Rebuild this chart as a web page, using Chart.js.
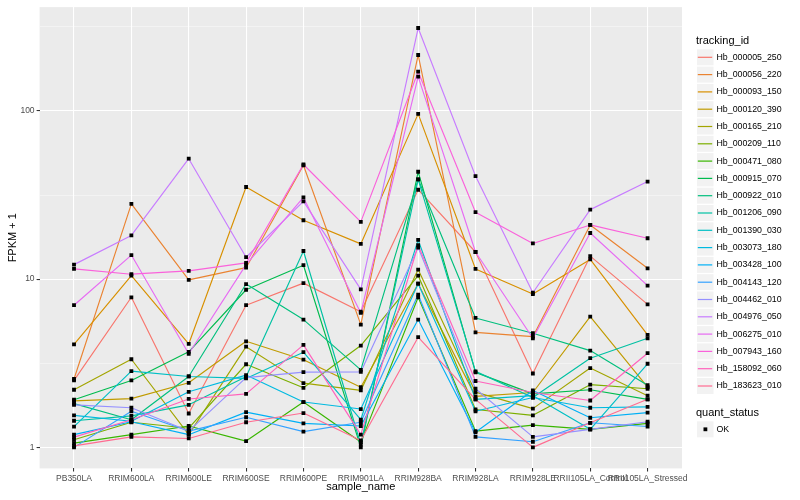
<!DOCTYPE html>
<html>
<head>
<meta charset="utf-8">
<script src="https://cdn.jsdelivr.net/npm/chart.js@4.4.1/dist/chart.umd.min.js"></script>
<style>
  html, body { margin: 0; padding: 0; background: #fff; }
  #wrap { width: 800px; height: 500px; }
</style>
</head>
<body>
<div id="wrap"><canvas id="chart" width="800" height="500"></canvas></div>
<script>
// --- data (FPKM + 1, log scale) ---
const sampleNames = ["PB350LA", "RRIM600LA", "RRIM600LE", "RRIM600SE", "RRIM600PE", "RRIM901LA",
  "RRIM928BA", "RRIM928LA", "RRIM928LE", "RRII105LA_Control", "RRII105LA_Stressed"];

const trackingIds = ["Hb_000005_250", "Hb_000056_220", "Hb_000093_150", "Hb_000120_390", "Hb_000165_210",
  "Hb_000209_110", "Hb_000471_080", "Hb_000915_070", "Hb_000922_010", "Hb_001206_090",
  "Hb_001390_030", "Hb_003073_180", "Hb_003428_100", "Hb_004143_120", "Hb_004462_010",
  "Hb_004976_050", "Hb_006275_010", "Hb_007943_160", "Hb_158092_060", "Hb_183623_010"];

const seriesColors = ["#F8766D", "#EA8331", "#D89000", "#C09B00", "#A3A500", "#7CAE00", "#39B600",
  "#00BB4E", "#00BF7D", "#00C1A3", "#00BFC4", "#00BAE0", "#00B0F6", "#35A2FF", "#9590FF",
  "#C77CFF", "#E76BF3", "#FA62DB", "#FF62BC", "#FF6C91"];

const hb000005_250 = [2.5, 7.8, 1.59, 7.0, 9.47, 6.4, 34, 14.5, 2.75, 13.7, 7.08];
const hb000056_220 = [2.55, 28, 9.9, 11.7, 47.5, 5.37, 215, 4.83, 4.55, 21, 11.6];
const hb000093_150 = [4.1, 10.5, 4.12, 35.3, 22.4, 16.2, 96, 11.5, 8.15, 13.1, 4.66];
const hb000120_390 = [1.89, 1.95, 2.42, 4.27, 3.32, 2.28, 9.4, 2.01, 2.12, 5.98, 2.28];
const hb000165_210 = [2.2, 3.34, 1.19, 3.97, 2.41, 2.18, 11.4, 2.13, 1.70, 2.96, 2.03];
const hb000209_110 = [1.11, 1.41, 1.30, 3.12, 2.26, 4.03, 10.5, 1.68, 1.55, 2.36, 2.23];
const hb000471_080 = [1.06, 1.19, 1.34, 1.09, 1.86, 1.075, 7.8, 1.25, 1.355, 1.28, 1.39];
const hb000915_070 = [1.92, 2.5, 3.7, 8.65, 12.1, 1.0, 43.5, 2.79, 2.08, 2.2, 1.93];
const hb000922_010 = [1.82, 1.46, 2.64, 9.35, 5.75, 2.89, 39.2, 5.88, 4.77, 3.76, 2.34];
const hb001206_090 = [1.44, 1.54, 1.79, 2.63, 14.7, 1.04, 39.2, 2.83, 1.98, 3.39, 4.45];
const hb001390_030 = [1.33, 2.84, 2.64, 2.57, 3.68, 1.46, 17.1, 1.93, 2.03, 1.28, 3.14];
const hb003073_180 = [1.55, 1.43, 2.14, 2.69, 1.86, 1.69, 9.4, 1.64, 1.98, 1.72, 1.74];
const hb003428_100 = [1.19, 1.42, 1.19, 1.62, 1.39, 1.34, 5.75, 1.23, 2.18, 1.5, 1.61];
const hb004143_120 = [1.0, 1.64, 1.25, 1.51, 1.24, 1.41, 8.1, 1.155, 1.08, 1.4, 1.33];
const hb004462_010 = [1.79, 1.72, 1.25, 2.6, 2.8, 2.81, 15.4, 2.23, 1.155, 1.28, 1.42];
const hb004976_050 = [12.2, 18.2, 52, 13.5, 29, 8.7, 311, 41, 8.3, 25.9, 38];
const hb006275_010 = [7.0, 13.9, 3.6, 12.2, 30.6, 6.3, 160, 14.5, 4.45, 18.8, 9.16];
const hb007943_160 = [11.5, 10.7, 11.2, 12.5, 48, 21.9, 171, 25, 16.3, 21, 17.5];
const hb158092_060 = [1.15, 1.46, 1.94, 2.08, 4.07, 1.19, 15.9, 2.48, 2.12, 1.9, 3.63];
const hb183623_010 = [1.02, 1.155, 1.13, 1.41, 1.60, 1.1, 4.52, 1.93, 1.0, 1.4, 1.93];

const allSeries = [hb000005_250, hb000056_220, hb000093_150, hb000120_390, hb000165_210,
  hb000209_110, hb000471_080, hb000915_070, hb000922_010, hb001206_090,
  hb001390_030, hb003073_180, hb003428_100, hb004143_120, hb004462_010,
  hb004976_050, hb006275_010, hb007943_160, hb158092_060, hb183623_010];

const yTickValues = [1, 10, 100];
const yMinorValues = [3.162, 31.62, 316.2];
const yMin = 0.75, yMax = 414;

const FONT = '"Liberation Sans", Arial, sans-serif';
Chart.defaults.font.family = FONT;

// --- datasets: one line per gene, plus all points drawn on top ---
const lineSets = allSeries.map((vals, i) => ({
  label: trackingIds[i],
  data: vals.map((v, j) => ({ x: j + 1, y: v })),
  borderColor: seriesColors[i],
  borderWidth: 1.15,
  borderJoinStyle: 'round',
  pointRadius: 0,
  tension: 0,
  order: trackingIds.length - i
}));

const pointData = [];
allSeries.forEach(vals => vals.forEach((v, j) => pointData.push({ x: j + 1, y: v })));

const pointSet = {
  label: 'OK',
  data: pointData,
  showLine: false,
  pointStyle: 'rect',
  pointRadius: 2.7,
  pointBackgroundColor: '#000',
  pointBorderWidth: 0,
  order: 0
};

// grey panel like ggplot
const panelBg = {
  id: 'panelBg',
  beforeDraw(chart) {
    const { ctx, chartArea: a } = chart;
    ctx.save();
    ctx.fillStyle = '#fff';
    ctx.fillRect(0, 0, chart.width, chart.height);
    ctx.fillStyle = '#ebebeb';
    ctx.fillRect(a.left, a.top, a.right - a.left, a.bottom - a.top);
    ctx.restore();
  }
};

// ggplot-style legend on the right
const ggLegend = {
  id: 'ggLegend',
  afterDraw(chart) {
    const ctx = chart.ctx;
    const kx = 697, tx = 716.5;
    ctx.save();
    ctx.textBaseline = 'middle';
    ctx.textAlign = 'left';
    ctx.fillStyle = '#000';
    ctx.font = '11px ' + FONT;
    ctx.fillText('tracking_id', 696, 40.5);
    trackingIds.forEach((id, i) => {
      const cy = 57.3 + i * 17.3;
      ctx.fillStyle = '#f2f2f2';
      ctx.fillRect(kx, cy - 8, 16.5, 16);
      ctx.strokeStyle = seriesColors[i];
      ctx.lineWidth = 1.2;
      ctx.beginPath();
      ctx.moveTo(kx + 0.8, cy);
      ctx.lineTo(kx + 15.2, cy);
      ctx.stroke();
      ctx.fillStyle = '#000';
      ctx.font = '8.8px ' + FONT;
      ctx.fillText(id, tx, cy);
    });
    ctx.font = '11px ' + FONT;
    ctx.fillText('quant_status', 696, 412.5);
    const oy = 429.3;
    ctx.fillStyle = '#f2f2f2';
    ctx.fillRect(kx, oy - 8, 16.5, 16);
    ctx.fillStyle = '#000';
    ctx.fillRect(kx + 6.5, oy - 1.9, 3.8, 3.8);
    ctx.font = '8.8px ' + FONT;
    ctx.fillText('OK', tx, oy);
    ctx.restore();
  }
};

new Chart(document.getElementById('chart'), {
  type: 'line',
  data: { datasets: [...lineSets, pointSet] },
  plugins: [panelBg, ggLegend],
  options: {
    responsive: false,
    animation: false,
    events: [],
    layout: { padding: { left: 0, top: 5, right: 118, bottom: 0 } },
    plugins: { legend: { display: false }, tooltip: { enabled: false } },
    scales: {
      x: {
        type: 'linear',
        min: 0.4,
        max: sampleNames.length + 0.6,
        afterBuildTicks(scale) {
          scale.ticks = sampleNames.map((_, i) => ({ value: i + 1 }));
        },
        afterFit(scale) { scale.height = 31.6; },
        border: { display: false },
        grid: { color: '#fff', lineWidth: 1.07, tickLength: 3, tickColor: '#333' },
        ticks: {
          autoSkip: false, maxRotation: 0, minRotation: 0, padding: 2,
          color: '#4d4d4d', font: { size: 8.5 },
          callback: v => sampleNames[v - 1]
        },
        title: { display: true, text: 'sample_name', color: '#000', font: { size: 11 }, padding: { top: 0, bottom: 6.4 } }
      },
      y: {
        type: 'logarithmic',
        min: yMin,
        max: yMax,
        afterBuildTicks(scale) {
          scale.ticks = [...yTickValues, ...yMinorValues].sort((a, b) => a - b).map(v => ({ value: v }));
        },
        afterFit(scale) { scale.width = 39.6; },
        border: { display: false },
        grid: {
          color: c => yTickValues.includes(c.tick.value) ? '#fff' : 'rgba(255,255,255,0.75)',
          lineWidth: c => yTickValues.includes(c.tick.value) ? 1.07 : 0.55,
          tickLength: 3,
          tickColor: c => yTickValues.includes(c.tick.value) ? '#333' : 'rgba(0,0,0,0)'
        },
        ticks: {
          padding: 2, color: '#4d4d4d', font: { size: 8.5 },
          callback: v => yTickValues.includes(v) ? String(v) : ''
        },
        title: { display: true, text: 'FPKM + 1', color: '#000', font: { size: 11 }, padding: { top: 6.4, bottom: 0 } }
      }
    }
  }
});
</script>
</body>
</html>
